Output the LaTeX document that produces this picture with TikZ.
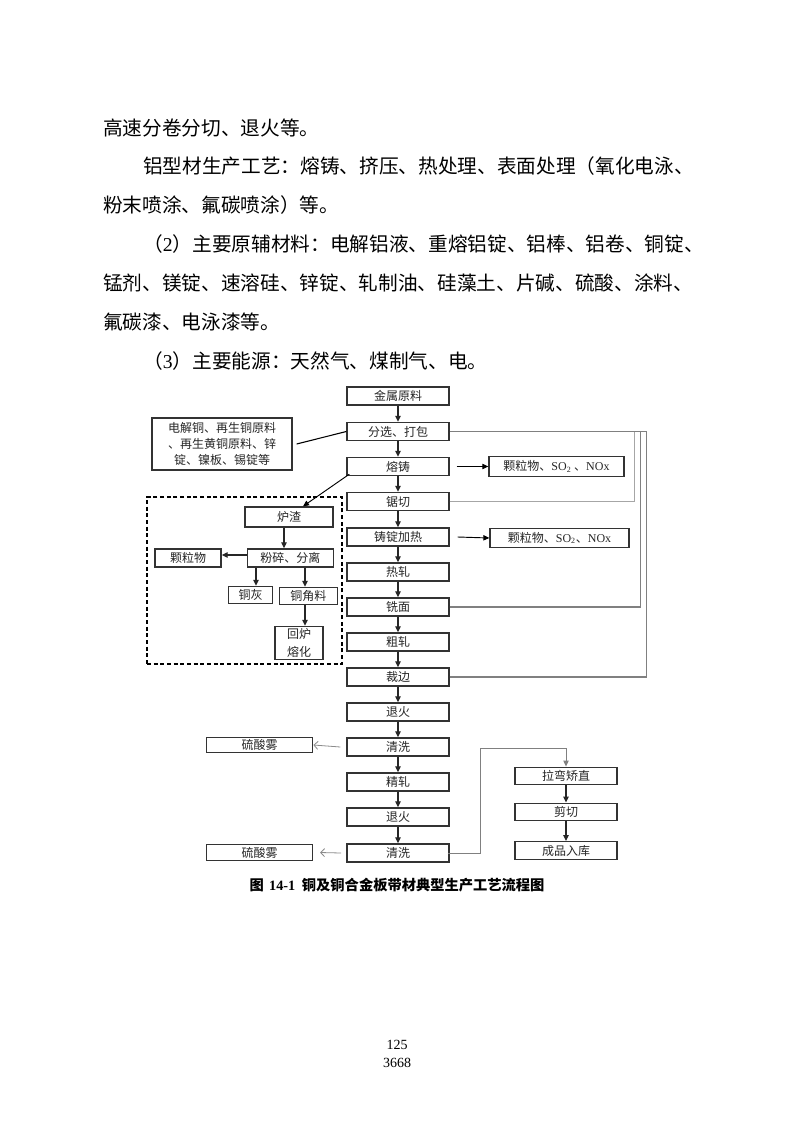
\documentclass[tikz,border=0pt]{standalone}
\usepackage{fontspec}
\setmainfont{Liberation Serif}
\newfontfamily\cjk{Noto Sans CJK SC}
\usetikzlibrary{arrows.meta,calc}
\XeTeXlinebreaklocale "zh"
\XeTeXlinebreakskip=0pt plus 3pt minus 0.6pt
\begin{document}
\begin{tikzpicture}[x=0.75pt,y=-0.75pt,
  body/.style={anchor=base west,inner sep=0pt,font=\cjk\fontsize{14.75}{18}\selectfont},
  bx/.style={draw=black!80,line width=1pt,inner sep=0pt,text=black!85,font=\cjk\fontsize{9}{12}\selectfont},
  sz/.style 2 args={minimum width=#1*0.75pt,minimum height=#2*0.75pt},
  arr/.style={draw=black!85,line width=0.9pt,-{Triangle[length=4.5pt,width=4pt]}},
  thinarr/.style={draw=black,line width=0.7pt,-{Triangle[length=4.5pt,width=4pt]}},
  garr/.style={draw=black!45,line width=0.6pt,-{Straight Barb[length=3pt,width=6pt]}},
  ret/.style={draw=black!50,line width=0.8pt},
  grp/.style={draw=black,line width=0.9pt,dash pattern=on 3pt off 2pt,inner sep=0pt}
]
\fill[white] (0,0) rectangle (794,1123);
\useasboundingbox (0,0) rectangle (794,1123);

% body text
\node[body] (t1) at (103,135.5) {高速分卷分切、退火等。};
\node[body] (t2) at (143,173.5) {\hbox to 412.5pt{铝型材生产工艺：熔铸、挤压、热处理、表面处理（氧化电泳、}};
\node[body] (t3) at (103,212.5) {粉末喷涂、氟碳喷涂）等。};
\node[body] (t4) at (143,251.5) {\hbox to 412.5pt{（{\rmfamily 2}）主要原辅材料：电解铝液、重熔铝锭、铝棒、铝卷、铜锭、}};
\node[body] (t5) at (103,290.5) {\hbox to 442.5pt{锰剂、镁锭、速溶硅、锌锭、轧制油、硅藻土、片碱、硫酸、涂料、}};
\node[body] (t6) at (103,329.5) {氟碳漆、电泳漆等。};
\node[body] (t7) at (143,368.5) {（{\rmfamily 3}）主要能源：天然气、煤制气、电。};

% main column
\node[bx,sz={102}{18}] (n1) at (398,396) {金属原料};
\node[bx,sz={102}{18}] (n2) at (398,431.5) {分选、打包};
\node[bx,sz={102}{18}] (n3) at (398,466.5) {熔铸};
\node[bx,sz={102}{18}] (n4) at (398,501.5) {锯切};
\node[bx,sz={102}{18}] (n5) at (398,537) {铸锭加热};
\node[bx,sz={102}{18}] (n6) at (398,572) {热轧};
\node[bx,sz={102}{18}] (n7) at (398,607) {铣面};
\node[bx,sz={102}{18}] (n8) at (398,642) {粗轧};
\node[bx,sz={102}{18}] (n9) at (398,677) {裁边};
\node[bx,sz={102}{18}] (n10) at (398,712) {退火};
\node[bx,sz={102}{18}] (n11) at (398,747) {清洗};
\node[bx,sz={102}{18}] (n12) at (398,782) {精轧};
\node[bx,sz={102}{18}] (n13) at (398,817) {退火};
\node[bx,sz={102}{18}] (n14) at (398,853) {清洗};
\foreach \a/\b in {n1/n2,n2/n3,n3/n4,n4/n5,n5/n6,n6/n7,n7/n8,n8/n9,n9/n10,n10/n11,n11/n12,n12/n13,n13/n14}
  \draw[arr] (\a.south) -- (\b.north);

% raw materials
\node[bx,sz={140}{52},align=center] (r) at (222,444) {电解铜、再生铜原料\\、再生黄铜原料、锌\\锭、镍板、锡锭等};
\draw[draw=black,line width=0.8pt] ([xshift=3pt]r.east) -- (n2.west);

% emissions
\node[bx,sz={135}{20}] (e1) at (556.5,466.5) {颗粒物、{\rmfamily SO\textsubscript{2}} 、{\rmfamily NOx}};
\node[bx,sz={139}{19}] (e2) at (559.5,538) {颗粒物、{\rmfamily SO\textsubscript{2}}、{\rmfamily NOx}};
\draw[thinarr] ([xshift=5.25pt]n3.east) -- (e1.west);
\draw[thinarr] ([xshift=6pt]n5.east) -- (e2.west);

% return lines
\draw[ret,draw=black!35] (n4.east) -| ($(n2.east)+(185,0)$) -- (n2.east);
\draw[ret] (n7.east) -| ($(n2.east)+(191,0)$) -- (n2.east);
\draw[ret] (n9.east) -| ($(n2.east)+(197,0)$) -- (n2.east);

% slag group
\node[grp,sz={195}{167}] (g) at (244.5,580.5) {};
\node[bx,sz={88}{20}] (s1) at (289,517) {炉渣};
\node[bx,sz={86}{18}] (s2) at (290.3,558) {粉碎、分离};
\node[bx,sz={66}{18}] (s3) at (188,558) {颗粒物};
\node[bx,sz={44}{17}] (s4) at (250.5,595) {铜灰};
\node[bx,sz={58}{17}] (s5) at (308.3,596) {铜角料};
\node[bx,sz={48}{33},align=center,font=\cjk\fontsize{9}{13}\selectfont] (s6) at (299,643) {回炉\\熔化};
\draw[thinarr] ([shift={(2.25pt,1.5pt)}]n3.south west) -- ($(s1.north)+(14,0)$);
\draw[arr] (284,0 |- s1.south) -- (284,0 |- s2.north);
\draw[arr] ([yshift=2.25pt]s2.west) -- ([yshift=2.25pt]s2.west -| s3.east);
\draw[arr] (256,0 |- s2.south) -- (256,0 |- s4.north);
\draw[arr] (305,0 |- s2.south) -- (305,0 |- s5.north);
\draw[arr] (305,0 |- s5.south) -- (305,0 |- s6.north);

% sulfuric mist
\node[bx,sz={106}{15}] (a1) at (259.7,745) {硫酸雾};
\node[bx,sz={106}{16}] (a2) at (259.7,852.5) {硫酸雾};
\draw[garr] ([xshift=-4.5pt]n11.west) -- (a1.east);
\draw[garr] ([xshift=-4pt]n14.west) -- ([xshift=5pt]a2.east);

% finishing column
\node[bx,sz={102}{17.5}] (f1) at (566,776) {拉弯矫直};
\node[bx,sz={102}{17.5}] (f2) at (566,812) {剪切};
\node[bx,sz={102}{17.5}] (f3) at (566,850.5) {成品入库};
\coordinate (k) at (480,748);
\draw[draw=black!50,line width=0.7pt,-{Triangle[length=4.5pt,width=4pt]}]
  ([xshift=-1.5pt]n14.east) -| (k) -| (f1.north);
\draw[arr] (f1.south) -- (f2.north);
\draw[arr] (f2.south) -- (f3.north);

% caption and page numbers
\node[font=\cjk\bfseries\fontsize{10.7}{12}\selectfont] (cap) at (397,885) {图\hspace{4pt}{\rmfamily\bfseries 14-1}\hspace{5pt}铜及铜合金板带材典型生产工艺流程图};
\node[font=\fontsize{10.5}{12}\selectfont,inner sep=0pt] (p1) at (397,1045) {125};
\node[font=\fontsize{10.5}{12}\selectfont,inner sep=0pt] (p2) at (397,1063) {3668};
\end{tikzpicture}
\end{document}
